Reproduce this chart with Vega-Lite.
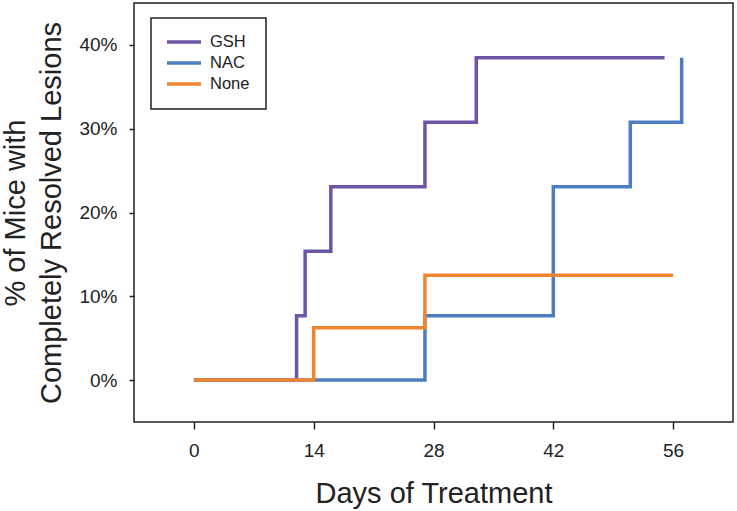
{
  "$schema": "https://vega.github.io/schema/vega-lite/v6.json",
  "autosize": "none",
  "width": 599,
  "height": 419,
  "padding": {"left": 134, "top": 3, "right": 4, "bottom": 89},
  "background": "white",
  "data": {
    "values": [
      {"group": "GSH", "day": 0, "pct": 0},
      {"group": "GSH", "day": 12, "pct": 0.0769},
      {"group": "GSH", "day": 13, "pct": 0.1538},
      {"group": "GSH", "day": 16, "pct": 0.2308},
      {"group": "GSH", "day": 27, "pct": 0.3077},
      {"group": "GSH", "day": 33, "pct": 0.3846},
      {"group": "GSH", "day": 55, "pct": 0.3846},
      {"group": "NAC", "day": 0, "pct": 0},
      {"group": "NAC", "day": 27, "pct": 0.0769},
      {"group": "NAC", "day": 42, "pct": 0.2308},
      {"group": "NAC", "day": 51, "pct": 0.3077},
      {"group": "NAC", "day": 57, "pct": 0.3846},
      {"group": "None", "day": 0, "pct": 0},
      {"group": "None", "day": 14, "pct": 0.0625},
      {"group": "None", "day": 27, "pct": 0.125},
      {"group": "None", "day": 56, "pct": 0.125}
    ]
  },
  "mark": {"type": "line", "interpolate": "step-after", "strokeWidth": 3.5},
  "encoding": {
    "x": {
      "field": "day",
      "type": "quantitative",
      "scale": {"domain": [-7, 63], "nice": false, "zero": false},
      "axis": {
        "values": [0, 14, 28, 42, 56],
        "title": "Days of Treatment",
        "titlePadding": 19
      }
    },
    "y": {
      "field": "pct",
      "type": "quantitative",
      "scale": {"domain": [-0.05, 0.45], "nice": false, "zero": false},
      "axis": {
        "values": [0, 0.1, 0.2, 0.3, 0.4],
        "format": ".0%",
        "title": ["% of Mice with", "Completely Resolved Lesions"],
        "titlePadding": 12,
        "titleLineHeight": 36,
        "tickSize": 5,
        "labelPadding": 12
      }
    },
    "color": {
      "field": "group",
      "type": "nominal",
      "scale": {"domain": ["GSH", "NAC", "None"], "range": ["#6B55A4", "#4C7DC0", "#F08530"]},
      "legend": {
        "title": null,
        "orient": "none",
        "legendX": 17,
        "legendY": 15,
        "symbolType": "stroke",
        "symbolSize": 1600,
        "symbolStrokeWidth": 3.5,
        "labelFontSize": 16.5,
        "labelColor": "#222",
        "labelFont": "Liberation Sans",
        "strokeColor": "#222",
        "fillColor": "white",
        "padding": 16,
        "rowPadding": 4,
        "clipHeight": 16,
        "labelOffset": -1,
        "encode": {
          "symbols": {"update": {"x": {"value": 14}}}
        }
      }
    }
  },
  "config": {
    "view": {"stroke": "#222", "strokeWidth": 1.5},
    "axis": {
      "grid": false,
      "domain": false,
      "tickColor": "#222",
      "tickWidth": 1.5,
      "tickSize": 7,
      "labelFont": "Liberation Sans",
      "labelFontSize": 19,
      "labelColor": "#222",
      "labelPadding": 12,
      "titleFont": "Liberation Sans",
      "titleFontSize": 29,
      "titleFontWeight": "normal",
      "titleColor": "#222"
    },
    "legend": {"strokeWidth": 1.5}
  }
}
